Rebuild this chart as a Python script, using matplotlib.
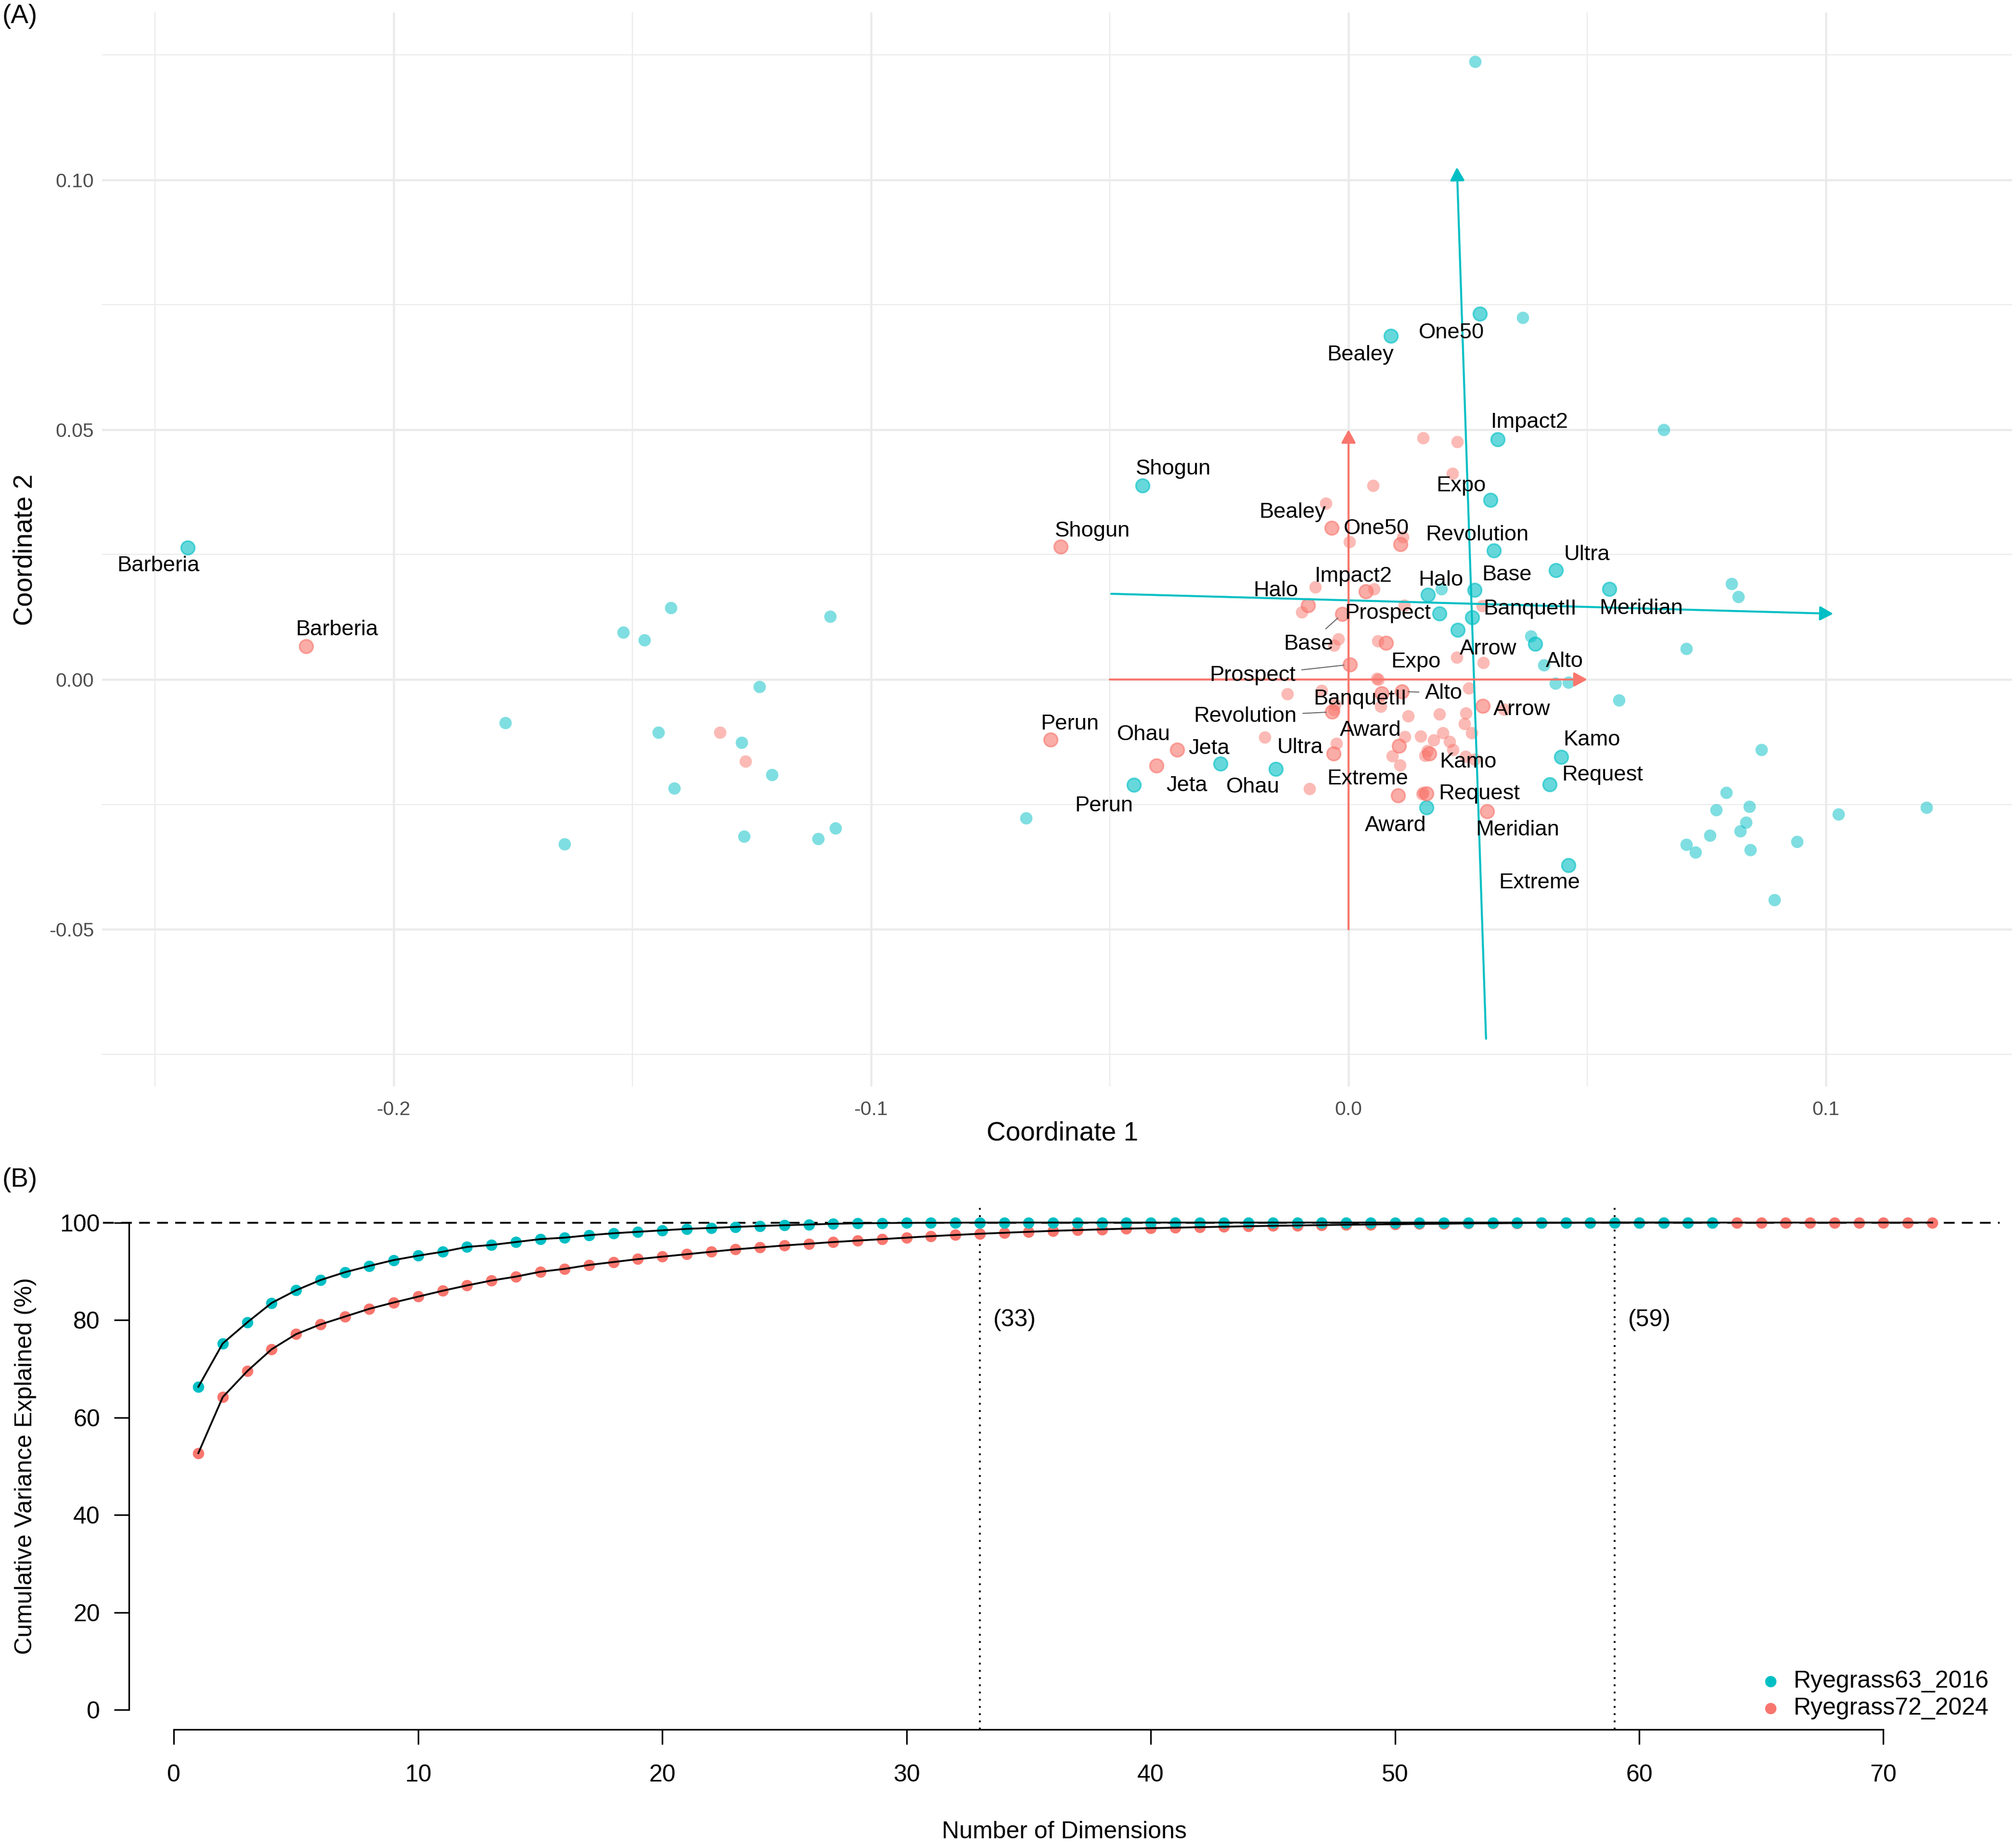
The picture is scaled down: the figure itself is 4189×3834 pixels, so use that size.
import numpy as np
import matplotlib
matplotlib.use('Agg')
import matplotlib.pyplot as plt

plt.rcParams['font.family'] = ['Liberation Sans', 'DejaVu Sans']
plt.rcParams['axes.unicode_minus'] = False

TEAL = '#00BFC4'
RED = '#F8766D'

# ---- panel A data ----
cultivars = ['Barberia', 'Shogun', 'Perun', 'Jeta', 'Ohau', 'Bealey', 'One50',
             'Impact2', 'Expo', 'Revolution', 'Ultra', 'Meridian', 'Base', 'Halo',
             'Prospect', 'BanquetII', 'Arrow', 'Alto', 'Kamo', 'Request', 'Award',
             'Extreme']

# Ryegrass63_2016, labelled cultivars
teal_x = [-0.2431, -0.0431, -0.0450, -0.0268, -0.0152, 0.0089, 0.0275, 0.0312,
          0.0297, 0.0304, 0.0434, 0.0546, 0.0264, 0.0166, 0.0190, 0.0259, 0.0229,
          0.0391, 0.0445, 0.0421, 0.0163, 0.0461]
teal_y = [0.0264, 0.0388, -0.0211, -0.0169, -0.0179, 0.0688, 0.0732, 0.0481,
          0.0359, 0.0258, 0.0219, 0.0181, 0.0179, 0.0169, 0.0132, 0.0124, 0.0099,
          0.0071, -0.0155, -0.0210, -0.0256, -0.0372]

# Ryegrass72_2024, labelled cultivars
red_x = [-0.2183, -0.0603, -0.0624, -0.0359, -0.0402, -0.0035, 0.0109, 0.0036,
         0.0079, -0.0034, -0.0031, 0.0290, -0.0013, -0.0085, 0.0003, 0.0069, 0.0281,
         0.0112, 0.0169, 0.0163, 0.0106, 0.0104]
red_y = [0.0066, 0.0266, -0.0120, -0.0141, -0.0172, 0.0303, 0.0271, 0.0176,
         0.0073, -0.0065, -0.0148, -0.0264, 0.0131, 0.0148, 0.0030, -0.0028, -0.0053,
         -0.0024, -0.0148, -0.0228, -0.0133, -0.0232]

# other (unlabelled) genotypes
teal_other_x = [-0.1419, -0.1519, -0.1475, -0.1086, -0.1234, -0.1766, -0.1445, -0.1271,
                -0.1207, -0.1412, -0.1642, -0.1266, -0.1111, -0.1074, -0.0675,
                0.0365, 0.0265, 0.0660, 0.0194, 0.0382, 0.0409, 0.0433, 0.0461, 0.0566,
                0.0802, 0.0816, 0.0707, 0.0865, 0.0791, 0.0840, 0.0770, 0.0832, 0.0820,
                0.0757, 0.0707, 0.0727, 0.0842, 0.0939, 0.1026, 0.1210, 0.0892]
teal_other_y = [0.0143, 0.0094, 0.0079, 0.0126, -0.0014, -0.0087, -0.0106, -0.0126,
                -0.0191, -0.0218, -0.0329, -0.0314, -0.0319, -0.0298, -0.0277,
                0.0724, 0.1236, 0.0500, 0.0181, 0.0087, 0.0029, -0.0008, -0.0006, -0.0041,
                0.0192, 0.0166, 0.0062, -0.0141, -0.0226, -0.0254, -0.0261, -0.0286, -0.0303,
                -0.0312, -0.0330, -0.0346, -0.0341, -0.0325, -0.0270, -0.0256, -0.0441]

red_other_x = [-0.1316, -0.1263,
               0.0156, 0.0228, 0.0218, -0.0047, 0.0051,
               0.0002, 0.0114, -0.0070, 0.0053, -0.0098, -0.0021, -0.0030, 0.0061, 0.0059,
               0.0062, -0.0128, -0.0056, 0.0067, -0.0028,
               0.0280, 0.0117, 0.0227, 0.0282, 0.0252, 0.0190, 0.0246, 0.0243, 0.0258, 0.0325,
               0.0125, 0.0151, 0.0198, 0.0178, 0.0212, 0.0118, -0.0025, 0.0219, 0.0160,
               0.0092, 0.0108, 0.0245, -0.0175, -0.0082, 0.0154, 0.0264,
               0.0165, 0.0156, -0.0030]
red_other_y = [-0.0106, -0.0164,
               0.0483, 0.0476, 0.0412, 0.0352, 0.0388,
               0.0275, 0.0285, 0.0185, 0.0181, 0.0135, 0.0081, 0.0068, 0.0077, 0.0002,
               0.0000, -0.0029, -0.0022, -0.0054, -0.0050,
               0.0147, 0.0148, 0.0044, 0.0034, -0.0017, -0.0069, -0.0067, -0.0089, -0.0107, -0.0060,
               -0.0073, -0.0114, -0.0107, -0.0121, -0.0124, -0.0115, -0.0128, -0.0141, -0.0152,
               -0.0153, -0.0171, -0.0154, -0.0116, -0.0219, -0.0229, -0.0160,
               -0.0143, -0.0226, -0.0061]

# principal axes of each configuration (start, end)
teal_axes = [((-0.0497, 0.01715), (0.1015, 0.01316)),
             ((0.0288, -0.0719), (0.0227, 0.1025))]
red_axes = [((-0.05, 0.0), (0.05, 0.0)),
            ((0.0, -0.05), (0.0, 0.05))]

# ---- panel B data ----
var_2016 = [66.3, 75.2, 79.5, 83.5, 86.1, 88.2, 89.8, 91.1, 92.3, 93.2,
            94.0, 95.0, 95.4, 96.0, 96.6, 96.9, 97.4, 97.8, 98.1, 98.4,
            98.7, 98.9, 99.1, 99.3, 99.45, 99.6, 99.75, 99.85, 99.9, 99.93,
            99.96, 99.98, 100.0, 100.0, 100.0, 100.0, 100.0, 100.0, 100.0, 100.0,
            100.0, 100.0, 100.0, 100.0, 100.0, 100.0, 100.0, 100.0, 100.0, 100.0,
            100.0, 100.0, 100.0, 100.0, 100.0, 100.0, 100.0, 100.0, 100.0, 100.0,
            100.0, 100.0, 100.0]
var_2024 = [52.7, 64.2, 69.5, 74.0, 77.1, 79.1, 80.7, 82.3, 83.6, 84.8,
            86.0, 87.1, 88.1, 88.9, 89.9, 90.5, 91.3, 91.9, 92.5, 93.0,
            93.5, 94.0, 94.5, 94.9, 95.3, 95.65, 96.0, 96.3, 96.6, 96.9,
            97.2, 97.45, 97.7, 97.9, 98.1, 98.3, 98.45, 98.6, 98.75, 98.85,
            98.95, 99.05, 99.15, 99.25, 99.33, 99.4, 99.48, 99.55, 99.6, 99.66,
            99.72, 99.77, 99.82, 99.86, 99.9, 99.93, 99.96, 99.98, 100.0, 100.0,
            100.0, 100.0, 100.0, 100.0, 100.0, 100.0, 100.0, 100.0, 100.0, 100.0,
            100.0, 100.0]
cut_2016 = 33
cut_2024 = 59
series_names = ['Ryegrass63_2016', 'Ryegrass72_2024']

# label layout (offsets in points, ggrepel-like)
teal_off = [(-14.7, -9.0), (15.4, 8.3), (-14.7, -10.3), (-16.7, -10.9), (-11.5, -9.0),
            (-15.4, -9.6), (-14.1, -9.6), (16, 8.3), (-14.7, 7.1), (-8.3, 7.7),
            (15.4, 7.7), (16, -9.6), (16, 7.7), (6.6, 7.5), (-25.7, 0), (28.9, 4.2),
            (15.1, -9.4), (14.5, -8.8), (15.3, 8.4), (26.3, 4.8), (-15.3, -9.0),
            (-14.6, -8.8)]
red_off = [(15.4, 8.3), (16, 7.7), (9.6, 7.7), (16, 0.6), (-6.4, 15.4),
           (-19.6, 8.0), (-12.1, 7.8), (-6, 7.5), (14.8, -9.4), (-43.4, -2.1),
           (-16.7, 2.9), (15.2, -9.1), (-16.8, -15), (-16, 7.5), (-48.5, -5.4),
           (-10.6, -2.8), (19.5, -1.9), (20.8, -0.8), (19.3, -4.2), (26.3, -0.2),
           (-14.2, 7.8), (-15.3, 8.3)]
red_segment = ['Base', 'Prospect', 'Revolution', 'Alto']

W, H = 4189, 3834
fig = plt.figure(figsize=(W / 300, H / 300), dpi=300)

# ================= panel A =================
axA = fig.add_axes([212 / W, 1 - 2258 / H, 3969 / W, 2232 / H])
axA.set_xlim(-0.26104, 0.13898)
axA.set_ylim(-0.08147, 0.13347)
for s in axA.spines.values():
    s.set_visible(False)
axA.set_xticks([-0.2, -0.1, 0.0, 0.1])
axA.set_xticklabels(['-0.2', '-0.1', '0.0', '0.1'])
axA.set_yticks([-0.05, 0.0, 0.05, 0.10])
axA.set_yticklabels(['-0.05', '0.00', '0.05', '0.10'])
axA.set_xticks([-0.25, -0.15, -0.05, 0.05], minor=True)
axA.set_yticks([-0.075, -0.025, 0.025, 0.075, 0.125], minor=True)
axA.tick_params(which='both', length=0, labelsize=9.8, labelcolor='#4D4D4D')
axA.tick_params(axis='x', pad=7)
axA.tick_params(axis='y', pad=4)
axA.grid(which='major', color='#EBEBEB', lw=1.1)
axA.grid(which='minor', color='#EBEBEB', lw=0.55)
axA.set_axisbelow(True)

axA.scatter(teal_other_x, teal_other_y, s=38, color=TEAL, alpha=0.5, lw=0, zorder=2)
axA.scatter(red_other_x, red_other_y, s=38, color=RED, alpha=0.5, lw=0, zorder=2)
axA.scatter(teal_x, teal_y, s=46, color=TEAL, alpha=0.6, lw=0.8, edgecolor=TEAL, zorder=3)
axA.scatter(red_x, red_y, s=46, color=RED, alpha=0.6, lw=0.8, edgecolor=RED, zorder=3)

for axes_list, col in [(teal_axes, TEAL), (red_axes, RED)]:
    for start, end in axes_list:
        axA.annotate('', xy=end, xytext=start, zorder=4,
                     arrowprops=dict(arrowstyle='-|>,head_length=0.55,head_width=0.3',
                                     color=col, lw=1.0, shrinkA=0, shrinkB=0,
                                     mutation_scale=10))

for name, x, y, off in zip(cultivars, teal_x, teal_y, teal_off):
    axA.annotate(name, (x, y), xytext=off, textcoords='offset points',
                 ha='center', va='center', fontsize=10.9, color='black', zorder=5)
for name, x, y, off in zip(cultivars, red_x, red_y, red_off):
    props = None
    if name in red_segment:
        props = dict(arrowstyle='-', color='#666666', lw=0.5, shrinkA=1, shrinkB=3)
    axA.annotate(name, (x, y), xytext=off, textcoords='offset points',
                 ha='center', va='center', fontsize=10.9, color='black', zorder=5,
                 arrowprops=props)

fig.text(0.527, 1 - 2356 / H, 'Coordinate 1', ha='center', va='center', fontsize=13.2)
fig.text(53 / W, 1 - 1142 / H, 'Coordinate 2', ha='center', va='center',
         rotation=90, fontsize=13.2)
fig.text(5 / W, 1 - 8 / H, '(A)', ha='left', va='top', fontsize=13.2)

# ================= panel B =================
axB = fig.add_axes([268 / W, 1 - 3594 / H, 3891 / W, 1094 / H])
axB.set_xlim(-1.84, 74.84)
axB.set_ylim(-4, 104)
dims_2016 = np.arange(1, len(var_2016) + 1)
dims_2024 = np.arange(1, len(var_2024) + 1)

axB.scatter(dims_2024, var_2024, s=32, color=RED, lw=0, zorder=2, label=series_names[1])
axB.scatter(dims_2016, var_2016, s=32, color=TEAL, lw=0, zorder=3, label=series_names[0])
axB.plot(dims_2024, var_2024, color='black', lw=0.9, zorder=4)
axB.plot(dims_2016, var_2016, color='black', lw=0.9, zorder=4)

axB.axhline(100, xmin=-0.014, xmax=0.999, color='black', lw=0.9,
            linestyle=(0, (6, 4)), clip_on=False, zorder=1)
for cut in [cut_2016, cut_2024]:
    axB.axvline(cut, color='black', lw=0.9, linestyle=(0, (1, 3)), zorder=1)
    axB.text(cut + 0.55, 80, '({})'.format(cut), ha='left', va='center', fontsize=12)

for side in ['top', 'right']:
    axB.spines[side].set_visible(False)
axB.spines['left'].set_bounds(0, 100)
axB.spines['bottom'].set_bounds(0, 70)
axB.spines['left'].set_linewidth(0.8)
axB.spines['bottom'].set_linewidth(0.8)
axB.set_xticks(np.arange(0, 71, 10))
axB.set_yticks(np.arange(0, 101, 20))
axB.tick_params(length=7.4, width=0.8, labelsize=12, color='black', labelcolor='black')
axB.tick_params(axis='x', pad=10)
axB.tick_params(axis='y', pad=7)

handles, labels = axB.get_legend_handles_labels()
axB.legend(handles[::-1], labels[::-1], loc='lower right',
           bbox_to_anchor=(0.9866, 0.068), bbox_transform=fig.transFigure,
           frameon=False, fontsize=12, handlelength=1.0, handletextpad=0.45,
           labelspacing=0.2, borderpad=0, borderaxespad=0)

fig.text(0.528, 1 - 3807 / H, 'Number of Dimensions', ha='center', va='center', fontsize=12)
fig.text(53 / W, 1 - 3046 / H, 'Cumulative Variance Explained (%)', ha='center',
         va='center', rotation=90, fontsize=12)
fig.text(5 / W, 1 - 2452 / H, '(B)', ha='left', va='center', fontsize=13.2)

fig.savefig('out.png', dpi=300)
